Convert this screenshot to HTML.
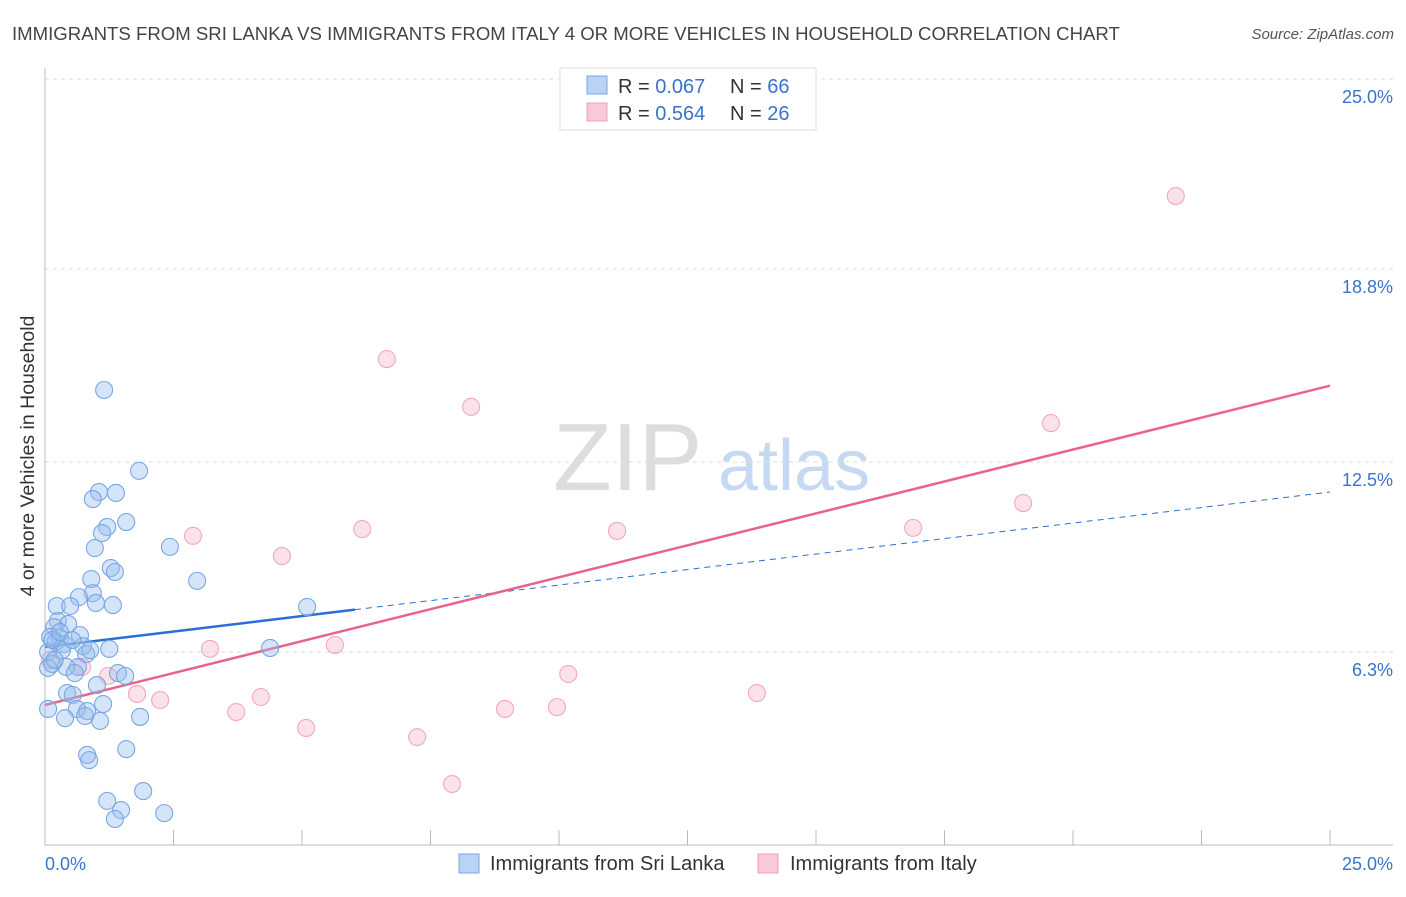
<!DOCTYPE html>
<html><head><meta charset="utf-8"><style>
body{margin:0;background:#fff;font-family:"Liberation Sans",sans-serif}
svg text{font-family:"Liberation Sans",sans-serif}
</style></head><body>
<svg id="c" width="1406" height="892">
<text x="12" y="40" font-size="18.6" fill="#444">IMMIGRANTS FROM SRI LANKA VS IMMIGRANTS FROM ITALY 4 OR MORE VEHICLES IN HOUSEHOLD CORRELATION CHART</text>
<text x="1394" y="39" font-size="15" fill="#555" font-style="italic" text-anchor="end">Source: ZipAtlas.com</text>
<text transform="translate(34,456) rotate(-90)" font-size="19.5" fill="#333" text-anchor="middle">4 or more Vehicles in Household</text>
<g><text x="553" y="490" font-size="96" font-family="Liberation Serif" fill="#ddd">ZIP</text><text x="718" y="490" font-size="72" fill="#c6d9f2">atlas</text></g>
<g id="grid"></g><g id="axes"></g><g id="lines"></g><g id="pts"></g>
<g>
<rect x="560" y="68" width="256" height="62" fill="#fff" stroke="#ddd"/>
<rect x="587" y="76" width="20" height="18" fill="#b9d3f5" stroke="#7aa6e0"/>
<rect x="587" y="103" width="20" height="18" fill="#f9c9d7" stroke="#eea0b8"/>
<text x="618" y="93" font-size="20" fill="#333">R = <tspan fill="#3a73cc">0.067</tspan></text>
<text x="730" y="93" font-size="20" fill="#333">N = <tspan fill="#3a73cc">66</tspan></text>
<text x="618" y="120" font-size="20" fill="#333">R = <tspan fill="#3a73cc">0.564</tspan></text>
<text x="730" y="120" font-size="20" fill="#333">N = <tspan fill="#3a73cc">26</tspan></text>
</g>
<g>
<rect x="459" y="854" width="20" height="19" fill="#b9d3f5" stroke="#7aa6e0"/>
<text x="490" y="870" font-size="20" fill="#333">Immigrants from Sri Lanka</text>
<rect x="758" y="854" width="20" height="19" fill="#f9c9d7" stroke="#eea0b8"/>
<text x="790" y="870" font-size="20" fill="#333">Immigrants from Italy</text>
</g>
</svg>
<script>
const yTicks=[25.0,18.8,12.5,6.3];
const yTickLabels=["25.0%","18.8%","12.5%","6.3%"];
const xTickLabels=["0.0%","25.0%"];
const blueX=[1.15,1.83,1.05,1.38,0.93,1.58,1.21,1.11,2.43,0.97,1.28,1.36,2.96,0.90,0.93,0.66,0.99,1.32,0.23,0.49,5.10,0.25,0.45,0.18,0.68,0.10,0.29,0.21,0.37,0.74,1.25,4.38,0.33,0.06,0.80,0.64,0.41,0.06,0.58,1.42,1.56,1.01,0.43,0.54,1.13,0.62,0.06,0.82,0.78,1.85,0.39,1.07,1.58,0.82,0.86,1.91,1.21,1.48,1.36,2.32,0.14,0.14,0.29,0.53,0.19,0.88];
const blueY=[14.85,12.21,11.52,11.49,11.29,10.54,10.38,10.18,9.73,9.69,9.04,8.91,8.62,8.68,8.22,8.09,7.90,7.83,7.80,7.80,7.77,7.31,7.21,7.11,6.85,6.79,6.76,6.63,6.56,6.49,6.40,6.43,6.36,6.30,6.23,5.81,5.81,5.78,5.61,5.61,5.52,5.22,4.96,4.90,4.60,4.44,4.44,4.37,4.21,4.18,4.14,4.05,3.13,2.94,2.77,1.76,1.44,1.14,0.85,1.04,5.91,6.69,6.95,6.69,6.04,6.36];
const pinkX=[22.00,6.65,8.29,19.57,19.03,16.89,6.17,11.13,2.88,4.61,5.64,3.21,10.18,1.23,0.72,1.79,2.24,4.20,13.85,3.72,8.95,9.96,5.08,7.24,7.92,0.10];
const pinkY=[21.18,15.86,14.30,13.77,11.16,10.35,10.31,10.25,10.09,9.43,6.53,6.40,5.58,5.52,5.81,4.93,4.73,4.83,4.96,4.34,4.44,4.50,3.82,3.52,1.99,6.04];
const blueLine=[6.46,11.52], blueSolidEnd=6.03;
const pinkLine=[4.57,14.99];
const NS="http://www.w3.org/2000/svg";
const X=v=>45+v/25*1285, Y=v=>845-v/25*766;
function mk(p,tag,a){const e=document.createElementNS(NS,tag);for(const k in a)e.setAttribute(k,a[k]);document.getElementById(p).appendChild(e);return e;}
yTicks.forEach((t,i)=>{
 const g=mk('grid','line',{x1:45,x2:1393,y1:Y(t),y2:Y(t),stroke:'#ddd','stroke-dasharray':'4,4'});
 
 
 const l=mk('grid','text',{x:1393,y:Y(t)+24,'font-size':18,fill:'#3a73cc','text-anchor':'end'});
 l.textContent=yTickLabels[i];
 
 
});
const ax=mk('axes','line',{x1:45,x2:45,y1:68,y2:845,stroke:'#bbb'});


const bx=mk('axes','line',{x1:45,x2:1393,y1:845,y2:845,stroke:'#bbb'});


for(let i=0;i<=10;i++){const t=mk('axes','line',{x1:X(i*2.5),x2:X(i*2.5),y1:830,y2:845,stroke:'#bbb'});
 
 }
[[0,'start',45],[25,'end',1393]].forEach((d,i)=>{const t=mk('axes','text',{x:d[2],y:870,'font-size':18,fill:'#3a73cc','text-anchor':d[1]});t.textContent=xTickLabels[i];
 
 });
const by=v=>blueLine[0]+(blueLine[1]-blueLine[0])*v/25;
let e=mk('lines','line',{x1:X(0),y1:Y(by(0)),x2:X(blueSolidEnd),y2:Y(by(blueSolidEnd)),stroke:'#2a6fd6','stroke-width':2.5});


e=mk('lines','line',{x1:X(blueSolidEnd),y1:Y(by(blueSolidEnd)),x2:X(25),y2:Y(by(25)),stroke:'#2a6fd6','stroke-width':1,'stroke-dasharray':'6,5'});


e=mk('lines','line',{x1:X(0),y1:Y(pinkLine[0]),x2:X(25),y2:Y(pinkLine[1]),stroke:'#e8648c','stroke-width':2.5});


pinkX.forEach((v,i)=>{const c=mk('pts','circle',{cx:X(v),cy:Y(pinkY[i]),r:8.5,fill:'rgba(246,182,202,0.4)',stroke:'#f0a8be','stroke-width':1.1});
 
 });
blueX.forEach((v,i)=>{const c=mk('pts','circle',{cx:X(v),cy:Y(blueY[i]),r:8.5,fill:'rgba(150,190,240,0.4)',stroke:'#78a6e2','stroke-width':1.1});
 
 });
</script>
</body></html>
